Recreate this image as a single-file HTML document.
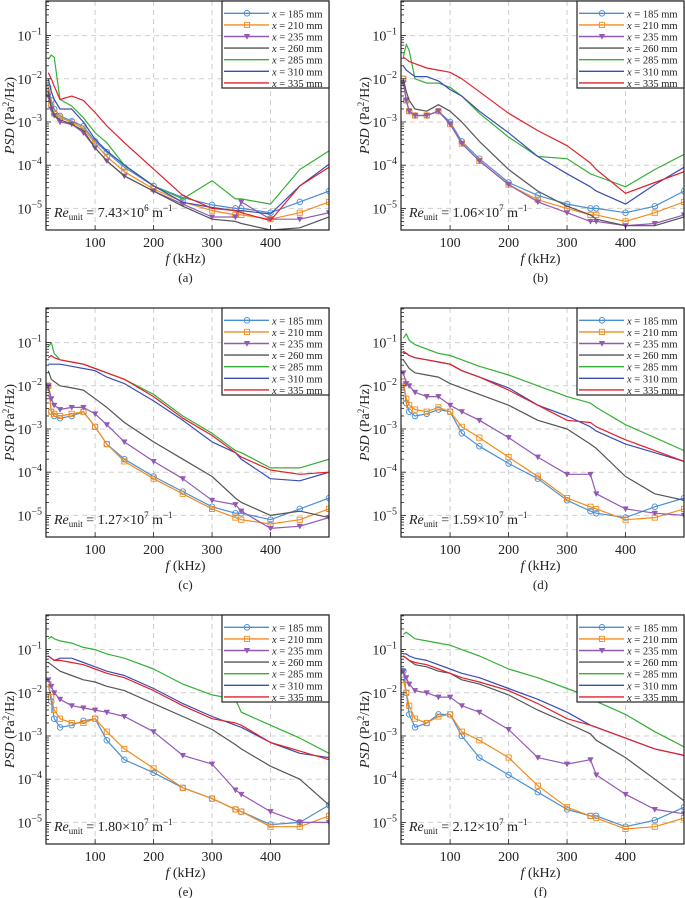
<!DOCTYPE html>
<html><head><meta charset="utf-8">
<style>
html,body{margin:0;padding:0;background:#fff;}
svg{display:block;font-family:"Liberation Serif",serif;}
</style></head>
<body>
<svg id="fig" width="685" height="898" viewBox="0 0 685 898" xmlns="http://www.w3.org/2000/svg"></svg>
<script>
// ---- data (log10 of PSD, Pa^2/Hz) ----
const freqs = [20,25,30,40,60,80,100,120,150,200,250,300,340,350,400,450,500];
const stations = ["185","210","235","260","285","310","335"];
const panelLabels = ["(a)","(b)","(c)","(d)","(e)","(f)"];
const reMantissa = ["7.43","1.06","1.27","1.59","1.80","2.12"];
const reExponent = ["6","7","7","7","7","7"];
const yTickExps = [-1,-2,-3,-4,-5];
const xTicks = [100,200,300,400];

const panelA = [
[-2.2,-2.5,-2.7,-2.86,-2.98,-3.1,-3.45,-3.7,-4.05,-4.48,-4.75,-4.92,-5.0,-5.0,-5.1,-4.85,-4.6],
[-2.25,-2.6,-2.8,-2.9,-3.0,-3.15,-3.5,-3.8,-4.15,-4.55,-4.85,-5.05,-5.15,-5.15,-5.25,-5.1,-4.85],
[-2.4,-2.7,-2.85,-3.0,-3.05,-3.25,-3.6,-3.9,-4.25,-4.6,-4.9,-5.2,-5.2,-4.85,-5.25,-5.25,-5.1],
[-2.3,-2.65,-2.85,-2.95,-3.05,-3.2,-3.6,-3.9,-4.25,-4.6,-4.95,-5.25,-5.3,-5.35,-5.5,-5.45,-5.2],
[-1.55,-1.45,-1.5,-2.48,-2.63,-2.9,-3.25,-3.48,-4.0,-4.48,-4.78,-4.36,-4.78,-4.78,-4.9,-4.1,-3.67],
[-2.0,-2.3,-2.48,-2.7,-2.7,-3.0,-3.4,-3.67,-4.0,-4.48,-4.86,-4.98,-5.05,-5.05,-5.13,-4.48,-3.98],
[-1.86,-2.0,-2.17,-2.48,-2.4,-2.5,-2.78,-3.09,-3.48,-4.09,-4.7,-5.0,-5.05,-5.1,-5.28,-4.48,-4.05]];
const panelB = [
[-2.0,-2.5,-2.75,-2.85,-2.85,-2.75,-3.0,-3.45,-3.85,-4.4,-4.7,-4.9,-5.0,-5.0,-5.1,-4.95,-4.6],
[-2.0,-2.5,-2.75,-2.85,-2.85,-2.75,-3.05,-3.5,-3.9,-4.45,-4.8,-5.0,-5.15,-5.15,-5.3,-5.1,-4.85],
[-2.1,-2.5,-2.75,-2.85,-2.85,-2.75,-3.05,-3.5,-3.9,-4.45,-4.85,-5.1,-5.3,-5.3,-5.4,-5.35,-5.15],
[-2.0,-2.3,-2.5,-2.7,-2.75,-2.6,-2.75,-3.0,-3.45,-4.1,-4.6,-4.95,-5.15,-5.25,-5.4,-5.4,-5.2],
[-1.5,-1.2,-1.35,-2.0,-2.1,-2.1,-2.2,-2.4,-2.8,-3.35,-3.8,-3.85,-4.2,-4.25,-4.5,-4.1,-3.75],
[-1.7,-1.8,-1.85,-1.95,-1.95,-2.05,-2.25,-2.4,-2.75,-3.25,-3.8,-4.2,-4.5,-4.6,-4.9,-4.45,-4.05],
[-1.5,-1.55,-1.6,-1.65,-1.75,-1.8,-1.85,-2.0,-2.3,-2.8,-3.2,-3.55,-3.95,-4.1,-4.65,-4.4,-4.15]];
const panelC = [
[-2.0,-2.6,-2.7,-2.75,-2.7,-2.6,-2.95,-3.35,-3.7,-4.1,-4.45,-4.8,-4.95,-4.95,-5.1,-4.85,-4.6],
[-2.0,-2.6,-2.65,-2.7,-2.65,-2.6,-2.95,-3.35,-3.75,-4.15,-4.5,-4.85,-5.05,-5.1,-5.2,-5.1,-4.85],
[-2.0,-2.3,-2.45,-2.55,-2.5,-2.5,-2.65,-2.9,-3.3,-3.75,-4.15,-4.65,-4.75,-4.9,-5.3,-5.25,-5.05],
[-1.65,-1.85,-1.9,-2.0,-2.05,-2.1,-2.3,-2.5,-2.85,-3.3,-3.7,-4.1,-4.6,-4.7,-5.0,-4.9,-5.05],
[-1.1,-1.0,-1.25,-1.4,-1.45,-1.5,-1.6,-1.7,-1.85,-2.2,-2.7,-3.1,-3.5,-3.55,-3.9,-3.9,-3.7],
[-1.5,-1.5,-1.5,-1.5,-1.55,-1.6,-1.65,-1.8,-1.95,-2.35,-2.8,-3.3,-3.55,-3.7,-4.15,-4.2,-4.0],
[-1.35,-1.3,-1.35,-1.4,-1.45,-1.5,-1.6,-1.7,-1.85,-2.25,-2.75,-3.15,-3.55,-3.65,-3.95,-4.05,-4.0]];
const panelD = [
[-1.9,-2.4,-2.6,-2.7,-2.65,-2.55,-2.6,-3.1,-3.4,-3.8,-4.15,-4.65,-4.9,-4.95,-5.05,-4.8,-4.6],
[-1.9,-2.3,-2.45,-2.55,-2.6,-2.5,-2.6,-2.95,-3.2,-3.65,-4.1,-4.6,-4.8,-4.85,-5.1,-5.05,-4.85],
[-1.7,-1.95,-2.0,-2.15,-2.25,-2.25,-2.45,-2.6,-2.8,-3.2,-3.65,-4.05,-4.05,-4.5,-4.85,-4.95,-5.0],
[-1.4,-1.5,-1.6,-1.7,-1.75,-1.8,-1.95,-2.05,-2.2,-2.45,-2.8,-3.0,-3.35,-3.45,-4.1,-4.5,-4.65],
[-0.9,-0.8,-0.95,-1.05,-1.15,-1.25,-1.3,-1.4,-1.55,-1.75,-2.0,-2.25,-2.4,-2.5,-2.9,-3.2,-3.5],
[-1.25,-1.25,-1.3,-1.35,-1.4,-1.45,-1.5,-1.65,-1.8,-2.05,-2.45,-2.7,-2.95,-3.05,-3.35,-3.55,-3.75],
[-1.2,-1.25,-1.3,-1.35,-1.4,-1.45,-1.5,-1.65,-1.8,-2.1,-2.45,-2.8,-2.85,-2.95,-3.25,-3.5,-3.75]];
const panelE = [
[-1.8,-2.2,-2.6,-2.8,-2.75,-2.65,-2.6,-3.1,-3.55,-3.85,-4.2,-4.45,-4.7,-4.75,-5.05,-5.0,-4.6],
[-1.8,-2.1,-2.4,-2.6,-2.7,-2.7,-2.6,-2.9,-3.3,-3.75,-4.2,-4.45,-4.7,-4.75,-5.1,-5.1,-4.85],
[-1.7,-1.85,-2.0,-2.15,-2.3,-2.35,-2.4,-2.45,-2.55,-2.9,-3.45,-3.65,-4.25,-4.35,-4.75,-5.0,-5.0],
[-1.3,-1.35,-1.4,-1.5,-1.6,-1.7,-1.75,-1.85,-1.95,-2.25,-2.55,-2.85,-3.2,-3.3,-3.7,-4.0,-4.6],
[-0.75,-0.7,-0.75,-0.8,-0.85,-0.95,-1.0,-1.1,-1.2,-1.45,-1.8,-2.05,-2.15,-2.45,-2.75,-3.05,-3.4],
[-1.15,-1.2,-1.25,-1.2,-1.2,-1.3,-1.4,-1.5,-1.6,-1.9,-2.25,-2.55,-2.75,-2.8,-3.15,-3.4,-3.5],
[-1.15,-1.2,-1.25,-1.25,-1.3,-1.35,-1.45,-1.55,-1.65,-1.95,-2.3,-2.6,-2.7,-2.75,-3.15,-3.35,-3.55]];
const panelF = [
[-1.5,-2.0,-2.5,-2.8,-2.7,-2.5,-2.5,-3.0,-3.5,-3.9,-4.3,-4.7,-4.85,-4.85,-5.1,-4.95,-4.65],
[-1.7,-2.0,-2.3,-2.6,-2.7,-2.55,-2.5,-2.9,-3.1,-3.5,-4.15,-4.65,-4.85,-4.9,-5.15,-5.1,-4.9],
[-1.5,-1.65,-1.8,-1.95,-2.0,-2.1,-2.1,-2.3,-2.45,-2.85,-3.5,-3.65,-3.55,-3.9,-4.35,-4.7,-4.8],
[-1.15,-1.2,-1.25,-1.35,-1.4,-1.5,-1.55,-1.7,-1.8,-2.05,-2.4,-2.7,-2.95,-3.1,-3.5,-4.0,-4.5],
[-0.65,-0.6,-0.65,-0.75,-0.8,-0.85,-0.9,-1.0,-1.15,-1.45,-1.65,-1.9,-2.1,-2.2,-2.5,-2.9,-3.25],
[-1.1,-1.1,-1.15,-1.2,-1.25,-1.35,-1.45,-1.55,-1.65,-1.9,-2.15,-2.45,-2.75,-2.8,-3.05,-3.3,-3.45],
[-1.15,-1.2,-1.25,-1.3,-1.35,-1.45,-1.55,-1.65,-1.75,-1.95,-2.25,-2.6,-2.75,-2.8,-3.05,-3.3,-3.45]];
const panelData = [panelA,panelB,panelC,panelD,panelE,panelF];

// ---- styling / layout ----
const colors = ["#4a8fd6","#f28c1e","#9359b5","#555555","#35b035","#3a4db2","#e3202a"];
const markers = ["circle","square","tri","none","none","none","none"];
const colX = [46,401], rowY = [1,308,615], PW = 283, PH = 229;
const F_MIN = 16, F_MAX = 500, L_MAX = -0.2, L_MIN = -5.5;
const NS = "http://www.w3.org/2000/svg";
const svg = document.getElementById('fig');
function mk(tag, attrs, parent){const e=document.createElementNS(NS,tag);for(const k in attrs)e.setAttribute(k,attrs[k]);(parent||svg).appendChild(e);return e;}

for(let p=0;p<6;p++){
  const x0 = colX[p%2], y0 = rowY[Math.floor(p/2)];
  const xs = f => x0 + (f-F_MIN)/(F_MAX-F_MIN)*PW;
  const ys = l => y0 + (L_MAX-l)/(L_MAX-L_MIN)*PH;
  const g = mk('g',{});
  
  
  const clipId='clip'+p;
  const cp=mk('clipPath',{id:clipId},g); mk('rect',{x:x0,y:y0,width:PW,height:PH},cp);
  // grid
  xTicks.forEach(t=>{const l=mk('line',{x1:xs(t),x2:xs(t),y1:y0,y2:y0+PH,stroke:'#cfcfcf','stroke-dasharray':'5,4','stroke-width':1},g);
    });
  yTickExps.forEach(e=>{const l=mk('line',{x1:x0,x2:x0+PW,y1:ys(e),y2:ys(e),stroke:'#cfcfcf','stroke-dasharray':'5,4','stroke-width':1},g);
    });
  // series
  const sg = mk('g',{'clip-path':'url(#'+clipId+')'},g);
  panelData[p].forEach((vals,si)=>{
    const pts = vals.map((v,i)=>xs(freqs[i]).toFixed(1)+','+ys(v).toFixed(1)).join(' ');
    const pl = mk('polyline',{points:pts,fill:'none',stroke:colors[si],'stroke-width':1.2,'stroke-linejoin':'round'},sg);
    
    
    if(markers[si]!=='none'){
      vals.forEach((v,i)=>{ drawMarker(sg, markers[si], xs(freqs[i]), ys(v), colors[si]); });
    }
  });
  // axes box
  const box=mk('rect',{x:x0,y:y0,width:PW,height:PH,fill:'none',stroke:'#222','stroke-width':1.2},g);
  
  // y minor ticks
  for(let d=-6; d<=0; d++){ for(let m=1;m<=9;m++){ const l=d+Math.log10(m); if(l<L_MIN||l>L_MAX) continue;
      mk('line',{x1:x0,x2:x0+(m===1?5:3),y1:ys(l),y2:ys(l),stroke:'#222','stroke-width':0.8},g);} }
  xTicks.forEach(t=>{ mk('line',{x1:xs(t),x2:xs(t),y1:y0+PH,y2:y0+PH-5,stroke:'#222','stroke-width':0.8},g);
    const tx=mk('text',{x:xs(t),y:y0+PH+17,'text-anchor':'middle','font-size':14,fill:'#222'},g); tx.textContent=t;
    });
  yTickExps.forEach(e=>{ const tx=mk('text',{x:x0-4,y:ys(e)+5,'text-anchor':'end','font-size':14,fill:'#222'},g);
    tx.textContent='10'; const s=mk('tspan',{'font-size':10,dy:-6},tx); s.textContent='\u2212'+(-e);
    });
  // axis titles
  const yl=mk('text',{x:0,y:0,transform:'translate('+(x0-32)+','+(y0+PH/2)+') rotate(-90)','text-anchor':'middle','font-size':14,fill:'#222'},g);
  
  yl.innerHTML='<tspan font-style="italic">PSD</tspan> (Pa<tspan font-size="9" dy="-5">2</tspan><tspan dy="5">/Hz)</tspan>';
  const xl=mk('text',{x:x0+PW/2-2,y:y0+PH+33,'text-anchor':'middle','font-size':14,fill:'#222'},g);
  
  xl.innerHTML='<tspan font-style="italic">f</tspan> (kHz)';
  const cap=mk('text',{x:x0+PW/2-2,y:y0+PH+52,'text-anchor':'middle','font-size':13,fill:'#222'},g);
  
  cap.textContent=panelLabels[p];
  // Re annotation
  const re=mk('text',{x:x0+8,y:y0+PH-13,'font-size':14,fill:'#222'},g);
  
  re.innerHTML='<tspan font-style="italic">Re</tspan><tspan font-size="9" dy="3">unit</tspan><tspan dy="-3"> = '+reMantissa[p]+'\u00d710</tspan><tspan font-size="9" dy="-6">'+reExponent[p]+'</tspan><tspan dy="6"> m</tspan><tspan font-size="9" dy="-6">\u22121</tspan>';
  // legend
  const lg=mk('g',{},g);
  
  const lx=x0+PW-107;
  mk('rect',{x:lx,y:y0,width:107,height:87,fill:'#fff',stroke:'#222','stroke-width':1.2},lg);
  stations.forEach((s,si)=>{
    const ly=y0+12.3+si*11.6;
    const ent=mk('g',{},lg);
    
    mk('line',{x1:lx+2,x2:lx+47,y1:ly,y2:ly,stroke:colors[si],'stroke-width':1.4},ent);
    if(markers[si]!=='none') drawMarker(ent,markers[si],lx+25,ly,colors[si]);
    const t=mk('text',{x:lx+50,y:ly+4,'font-size':10.5,fill:'#222'},ent);
    t.innerHTML='<tspan font-style="italic">x</tspan> = '+s+' mm';
  });
}
function drawMarker(parent,type,x,y,c){
  if(type==='circle') mk('circle',{cx:x,cy:y,r:2.8,fill:'none',stroke:c,'stroke-width':0.9},parent);
  else if(type==='square') mk('rect',{x:x-2.6,y:y-2.6,width:5.2,height:5.2,fill:'none',stroke:c,'stroke-width':0.9},parent);
  else mk('polygon',{points:(x-2.8)+','+(y-2.2)+' '+(x+2.8)+','+(y-2.2)+' '+x+','+(y+2.8),fill:c,stroke:c,'stroke-width':0.5},parent);
}
</script>
</body></html>
